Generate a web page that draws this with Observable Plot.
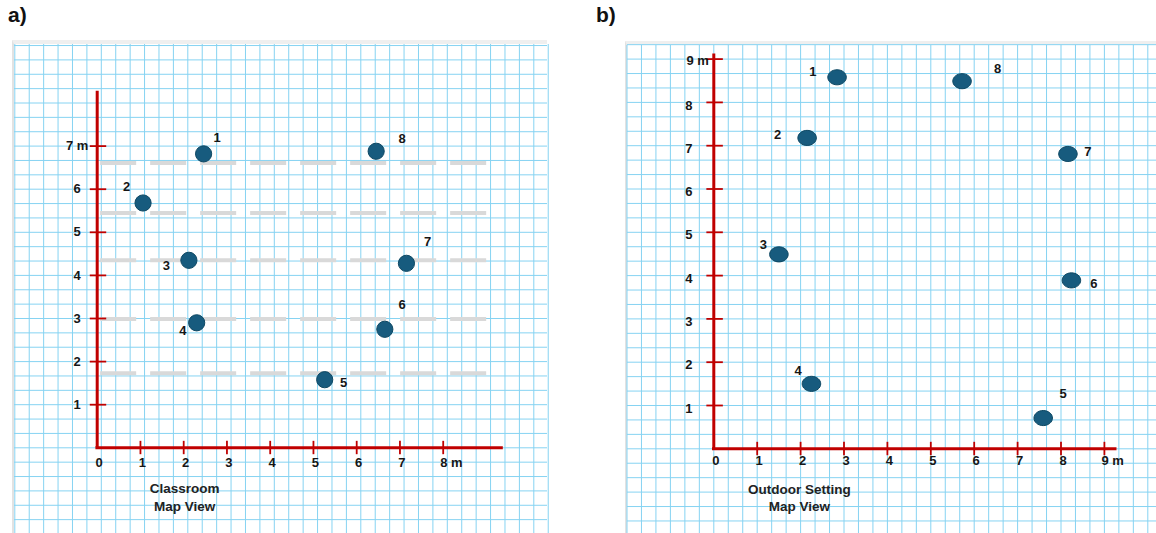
<!DOCTYPE html>
<html><head><meta charset="utf-8">
<script src="https://cdn.jsdelivr.net/npm/d3@7"></script>
<script src="https://cdn.jsdelivr.net/npm/@observablehq/plot@0.6"></script>
<style>
body{margin:0;width:1156px;height:533px;position:relative;background:#fff;overflow:hidden;font-family:"Liberation Sans",Arial,sans-serif;}
.tag{position:absolute;font:bold 21px "Liberation Sans",Arial,sans-serif;color:#111;}
.paper{position:absolute;border-top:4px solid #efefef;border-left:2px solid #e2e2e2;background:#fff;line-height:0;}
</style></head><body>
<div class="tag" style="left:8px;top:3px">a)</div>
<div class="tag" style="left:596px;top:3px">b)</div>
<div id="pa" class="paper" style="left:12px;top:40px"></div>
<div id="pb" class="paper" style="left:625px;top:41px"></div>
<script>
// ---- data (metres) ----
const pointIds = ["1", "2", "3", "4", "5", "6", "7", "8"];

const classroomX = [2.46, 1.06, 2.12, 2.30, 5.26, 6.65, 7.15, 6.45];
const classroomY = [6.82, 5.68, 4.35, 2.90, 1.58, 2.75, 4.28, 6.88];
const classroomLabelX = [2.77, 0.68, 1.60, 1.98, 5.70, 7.05, 7.64, 7.05];
const classroomLabelY = [7.19, 6.06, 4.23, 2.71, 1.50, 3.32, 4.79, 7.17];
const classroomRows = [6.61, 5.45, 4.35, 2.99, 1.73];
const classroomXTicks = [0, 1, 2, 3, 4, 5, 6, 7, 8];
const classroomXLabels = ["0", "1", "2", "3", "4", "5", "6", "7", "8 m"];
const classroomYTicks = [1, 2, 3, 4, 5, 6, 7];
const classroomYLabels = ["1", "2", "3", "4", "5", "6", "7 m"];
const classroomTitle = "Classroom\nMap View";

const outdoorX = [2.84, 2.15, 1.50, 2.25, 7.59, 8.24, 8.16, 5.72];
const outdoorY = [8.58, 7.18, 4.49, 1.50, 0.71, 3.89, 6.81, 8.49];
const outdoorLabelX = [2.28, 1.47, 1.14, 1.94, 8.05, 8.76, 8.62, 6.54];
const outdoorLabelY = [8.70, 7.24, 4.70, 1.79, 1.27, 3.81, 6.85, 8.78];
const outdoorXTicks = [0, 1, 2, 3, 4, 5, 6, 7, 8, 9];
const outdoorXLabels = ["0", "1", "2", "3", "4", "5", "6", "7", "8", "9 m"];
const outdoorYTicks = [1, 2, 3, 4, 5, 6, 7, 8, 9];
const outdoorYLabels = ["1", "2", "3", "4", "5", "6", "7", "8", "9 m"];
const outdoorTitle = "Outdoor Setting\nMap View";

// ---- styling ----
const RED = "#c00000";
const GRID = "#86d3f2";
const DOT = "#175b7e";
const DOT_STROKE = "#0e4863";
const INK = "#161616";
const FONT = "Liberation Sans, Arial, sans-serif";

const ellipse = {
  draw(ctx, size) {
    const r = Math.sqrt(size / Math.PI), rx = r * 1.13, ry = r * 0.92, k = 0.5523;
    ctx.moveTo(rx, 0);
    ctx.bezierCurveTo(rx, ry * k, rx * k, ry, 0, ry);
    ctx.bezierCurveTo(-rx * k, ry, -rx, ry * k, -rx, 0);
    ctx.bezierCurveTo(-rx, -ry * k, -rx * k, -ry, 0, -ry);
    ctx.bezierCurveTo(rx * k, -ry, rx, -ry * k, rx, 0);
    ctx.closePath();
  }
};

function panel(cfg) {
  const pts = pointIds.map((id, i) => ({id, x: cfg.X[i], y: cfg.Y[i], lx: cfg.LX[i], ly: cfg.LY[i]}));
  const n = cfg.xTicks.length;
  const xl = cfg.xTicks.map((v, i) => ({v, t: cfg.xLabels[i]}));
  const yl = cfg.yTicks.map((v, i) => ({v, t: cfg.yLabels[i]}));
  const marks = [
    Plot.ruleX(cfg.gridX, {stroke: GRID, strokeWidth: 1}),
    Plot.ruleY(cfg.gridY, {stroke: GRID, strokeWidth: 1}),
  ];
  if (cfg.rows) marks.push(Plot.ruleY(cfg.rows, {x1: 0.08, x2: 9.02, stroke: "#d9d9d9", strokeWidth: 4, strokeDasharray: "36 14"}));
  marks.push(
    Plot.ruleX([0], {y1: 0, y2: cfg.yTop, stroke: RED, strokeWidth: 3}),
    Plot.ruleY([0], {x1: -0.03, x2: cfg.xEnd, stroke: RED, strokeWidth: 3}),
    Plot.ruleY(cfg.yTicks, {x1: -0.16, x2: 0.22, stroke: RED, strokeWidth: 1.8}),
    Plot.ruleX(cfg.xTicks.filter(d => d > 0), {y1: -0.16, y2: 0.15, stroke: RED, strokeWidth: 1.8}),
    Plot.text(xl.slice(0, n - 1), {x: "v", y: 0, text: "t", dy: cfg.xdy, dx: 2, fontSize: 13, fontWeight: "bold", fill: INK}),
    Plot.text(xl.slice(n - 1), {x: "v", y: 0, text: "t", dy: cfg.xdy, dx: -3, textAnchor: "start", fontSize: 13, fontWeight: "bold", fill: INK}),
    Plot.text(yl.slice(0, -1), {x: 0, y: "v", text: "t", dx: cfg.ydx, dy: cfg.ydy, fontSize: 13, fontWeight: "bold", fill: INK}),
    Plot.text(yl.slice(-1), {x: 0, y: "v", text: "t", dx: cfg.ylastDx, dy: cfg.ylastDy, textAnchor: cfg.ylastAnchor, fontSize: 13, fontWeight: "bold", fill: INK}),
    Plot.dot(pts, {x: "x", y: "y", r: cfg.r, symbol: cfg.symbol, fill: DOT, stroke: DOT_STROKE, strokeWidth: 1}),
    Plot.text(pts, {x: "lx", y: "ly", text: "id", fontSize: 13, fontWeight: "bold", fill: INK}),
    Plot.text([cfg.title], {x: cfg.titleX, y: cfg.titleY, text: d => d, fontSize: 13.5, fontWeight: "bold", lineHeight: 1.3, fill: "#222"})
  );
  return Plot.plot({
    width: cfg.width, height: cfg.height, margin: 0,
    x: {domain: cfg.xDomain, range: cfg.xRange, axis: null},
    y: {domain: cfg.yDomain, range: cfg.yRange, axis: null},
    style: {background: "transparent", fontFamily: FONT, overflow: "visible"},
    marks
  });
}

document.getElementById("pa").append(panel({
  width: 533, height: 489,
  xDomain: [0, 8], xRange: [82.7, 82.7 + 8 * 43.25],
  yDomain: [0, 7], yRange: [403.3, 403.3 - 7 * 43.1],
  gridX: d3.range(-1.905, 10.6, 1 / 3),
  gridY: d3.range(-6, 29).map(k => k / 3),
  rows: classroomRows,
  yTop: 8.27, xEnd: 9.39,
  X: classroomX, Y: classroomY, LX: classroomLabelX, LY: classroomLabelY,
  xTicks: classroomXTicks, xLabels: classroomXLabels,
  yTicks: classroomYTicks, yLabels: classroomYLabels,
  xdy: 15, ydx: -20, ydy: 0, ylastDx: -20, ylastDy: 0, ylastAnchor: "middle",
  r: 8.1, symbol: "circle",
  title: classroomTitle, titleX: 2.02, titleY: -1.13
}));

document.getElementById("pb").append(panel({
  width: 529, height: 488,
  xDomain: [0, 9], xRange: [86.3, 86.3 + 9 * 43.4],
  yDomain: [0, 9], yRange: [403.3, 403.3 - 9 * 43.3],
  gridX: d3.range(-6, 33).map(k => k / 3),
  gridY: d3.range(-6, 29).map(k => k / 3),
  rows: null,
  yTop: 9.12, xEnd: 9.29,
  X: outdoorX, Y: outdoorY, LX: outdoorLabelX, LY: outdoorLabelY,
  xTicks: outdoorXTicks, xLabels: outdoorXLabels,
  yTicks: outdoorYTicks, yLabels: outdoorYLabels,
  xdy: 12, ydx: -25, ydy: 3, ylastDx: -5, ylastDy: 2, ylastAnchor: "end",
  r: 8.2, symbol: ellipse,
  title: outdoorTitle, titleX: 1.97, titleY: -1.11
}));
</script>
</body></html>
